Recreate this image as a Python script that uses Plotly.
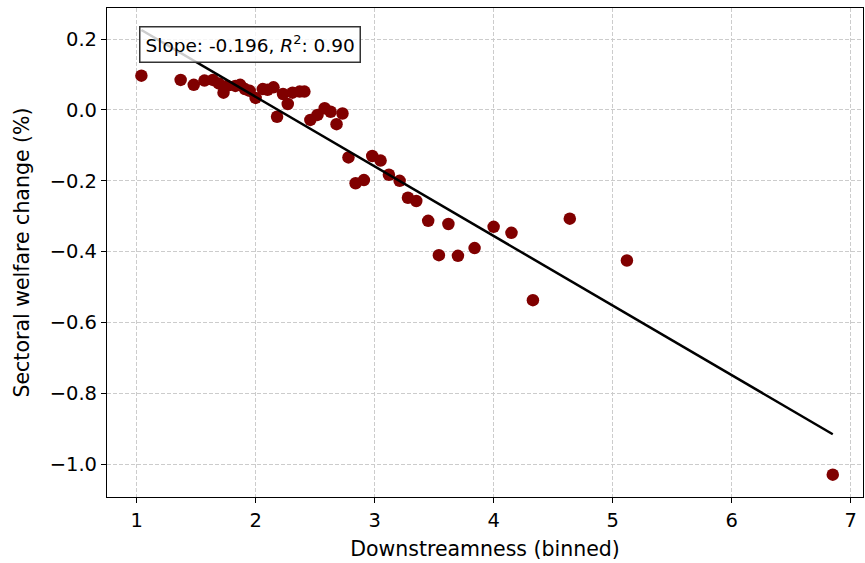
import numpy as np
import plotly.graph_objects as go

downstreamness = [1.04, 1.37, 1.48, 1.57, 1.64, 1.69, 1.73, 1.76, 1.83, 1.87, 1.91, 1.95, 2.00,
                  2.06, 2.10, 2.15, 2.18, 2.23, 2.27, 2.31, 2.37, 2.41, 2.46, 2.52, 2.58, 2.63,
                  2.68, 2.73, 2.78, 2.84, 2.91, 2.98, 3.05, 3.12, 3.21, 3.28, 3.35, 3.45, 3.54,
                  3.62, 3.70, 3.84, 4.00, 4.15, 4.33, 4.64, 5.12, 6.85]
welfare = [0.097, 0.085, 0.071, 0.083, 0.085, 0.075, 0.049, 0.068, 0.068, 0.071, 0.059, 0.054, 0.034,
           0.059, 0.057, 0.064, -0.019, 0.045, 0.017, 0.049, 0.052, 0.052, -0.028, -0.014, 0.005, -0.005,
           -0.040, -0.010, -0.134, -0.207, -0.198, -0.130, -0.143, -0.183, -0.200, -0.248, -0.257, -0.313, -0.410,
           -0.322, -0.412, -0.390, -0.330, -0.347, -0.537, -0.307, -0.425, -1.030]

x_ticks = [1, 2, 3, 4, 5, 6, 7]
y_ticks = [0.2, 0.0, -0.2, -0.4, -0.6, -0.8, -1.0]
y_tick_text = ["0.2", "0.0", "−0.2", "−0.4", "−0.6", "−0.8", "−1.0"]

x = np.array(downstreamness)
y = np.array(welfare)
slope, intercept = np.polyfit(x, y, 1)
xl = np.array([x.min(), x.max()])
yl = intercept + slope * xl

fig = go.Figure()
fig.add_trace(go.Scatter(x=downstreamness, y=welfare, mode="markers",
                         marker=dict(color="#800000", size=12.5, line=dict(width=0)),
                         showlegend=False))
fig.add_trace(go.Scatter(x=xl, y=yl, mode="lines", line=dict(color="black", width=2.5),
                         showlegend=False))

fig.add_annotation(xref="paper", yref="paper", x=0.0425, y=0.963, xanchor="left", yanchor="top",
                   text="Slope: -0.196, <i>R</i><sup>2</sup>: 0.90", showarrow=False,
                   font=dict(family="DejaVu Sans", size=18.5, color="black"),
                   bgcolor="rgba(255,255,255,0.8)", bordercolor="#333333", borderwidth=1.5,
                   borderpad=5, align="left")

axis_common = dict(showline=True, linecolor="black", linewidth=1.2, mirror=True,
                   ticks="outside", ticklen=5, tickwidth=1.2, tickcolor="black",
                   showgrid=True, gridcolor="#cccccc", griddash="4px,2px", gridwidth=1,
                   zeroline=False, automargin=False,
                   tickfont=dict(family="DejaVu Sans", size=19.5, color="black"))

fig.update_xaxes(range=[0.751, 7.104], tickvals=x_ticks,
                 title=dict(text="Downstreamness (binned)", font=dict(family="DejaVu Sans", size=20.5, color="black"), standoff=11),
                 **axis_common)
fig.update_yaxes(range=[-1.093, 0.288], tickvals=y_ticks, ticktext=y_tick_text,
                 title=dict(text="Sectoral welfare change (%)", font=dict(family="DejaVu Sans", size=20.5, color="black"), standoff=14),
                 **axis_common)

fig.update_layout(width=865, height=563, margin=dict(l=107, r=2, t=8, b=66),
                  plot_bgcolor="white", paper_bgcolor="white",
                  font=dict(family="DejaVu Sans"))

fig.write_html("out.html")
